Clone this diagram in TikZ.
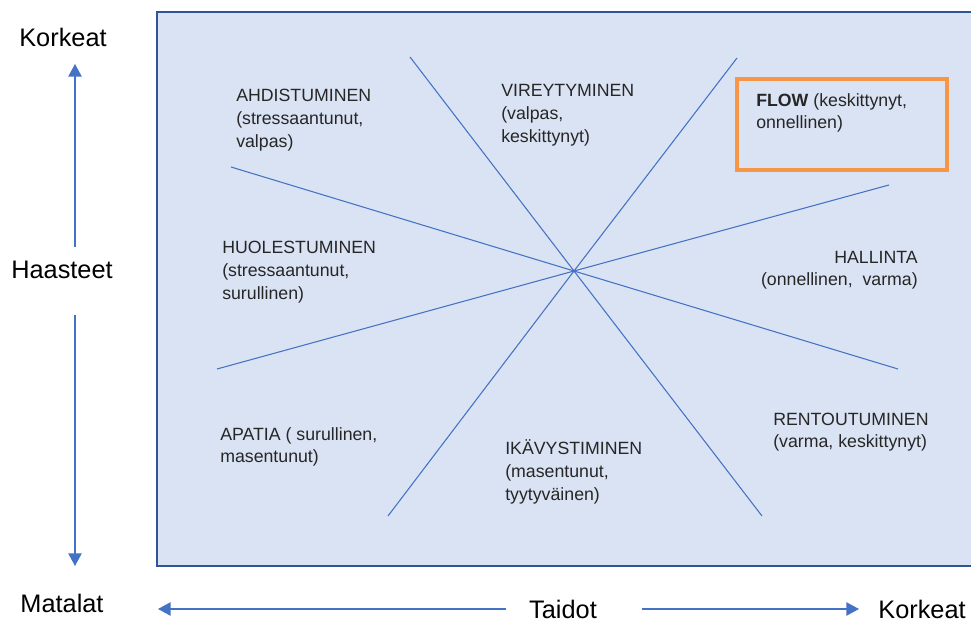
\documentclass[tikz,border=0pt]{standalone}
\usepackage{fontspec}
\setmainfont{Liberation Sans}
\usetikzlibrary{arrows.meta}

\definecolor{boxfill}{HTML}{DAE3F3}
\definecolor{boxline}{HTML}{2F5597}
\definecolor{lineblue}{HTML}{4472C4}
\definecolor{floworange}{HTML}{F79646}

\begin{document}
\begin{tikzpicture}[x=0.75pt, y=-0.75pt, >={Triangle[length=9.5pt,width=10pt]}]
    \tikzstyle{every node}=[inner sep=0pt, text=black!85]
    \tikzstyle{mood}=[anchor=base west, align=left, font=\fontsize{13.3}{17}\selectfont]
    \tikzstyle{axis label}=[anchor=base, font=\fontsize{19}{22}\selectfont, text=black]
    \tikzstyle{axis}=[->, lineblue, line width=1.1pt]
    \tikzstyle{divider}=[lineblue, line width=0.8pt]

    \useasboundingbox (0,0) rectangle (971,623);
    \fill[white] (0,0) rectangle (971,623);
    \draw[boxline, fill=boxfill, line width=1.6pt] (157,12) rectangle (980,566);

    % the eight sectors meet in one point
    \coordinate (c)  at (574,271);
    \coordinate (n1) at (410,57);  \coordinate (s1) at (762,516);
    \coordinate (n2) at (737,58);  \coordinate (s2) at (388,516);
    \coordinate (w1) at (231,167); \coordinate (e1) at (898,369);
    \coordinate (e2) at (889,185); \coordinate (w2) at (217,369);
    \draw[divider] (n1) -- (c) -- (s1);
    \draw[divider] (n2) -- (c) -- (s2);
    \draw[divider] (w1) -- (c) -- (e1);
    \draw[divider] (e2) -- (c) -- (w2);

    \draw[floworange, line width=3pt] (737,79) rectangle (947,170);

    % base = baseline of the last line
    \node[mood] at (236,147.3) (ahd)  {AHDISTUMINEN\\(stressaantunut,\\valpas)};
    \node[mood] at (501,142.3) (vir)  {VIREYTYMINEN\\(valpas,\\keskittynyt)};
    \node[mood] at (222,299.3) (huo)  {HUOLESTUMINEN\\(stressaantunut,\\surullinen)};
    \node[mood] at (756,128.7) (flow) {\textbf{FLOW} (keskittynyt,\\onnellinen)};
    \node[mood, anchor=base east, align=right] at (918,285.7) (hal) {HALLINTA\\(onnellinen,\ \ varma)};
    \node[mood] at (220,462.7) (apa)  {APATIA ( surullinen,\\masentunut)};
    \node[mood] at (505,500.3) (ika)  {IKÄVYSTIMINEN\\(masentunut,\\tyytyväinen)};
    \node[mood] at (773,447.7) (ren)  {RENTOUTUMINEN\\(varma, keskittynyt)};

    % axes
    \node[axis label] at (63,47)   (ktop)  {Korkeat};
    \node[axis label] at (62,279)  (haas)  {Haasteet};
    \node[axis label] at (62,612)  (mat)   {Matalat};
    \node[axis label] at (563,618) (taid)  {Taidot};
    \node[axis label] at (922,618) (kright) {Korkeat};

    \coordinate (up0) at (75,247);  \coordinate (up1) at (75,64);
    \coordinate (dn0) at (75,315);  \coordinate (dn1) at (75,566);
    \coordinate (lf0) at (506,609); \coordinate (lf1) at (158,609);
    \coordinate (rt0) at (642,609); \coordinate (rt1) at (859,609);
    \draw[axis] (up0) -- (up1);
    \draw[axis] (dn0) -- (dn1);
    \draw[axis] (lf0) -- (lf1);
    \draw[axis] (rt0) -- (rt1);
\end{tikzpicture}
\end{document}
